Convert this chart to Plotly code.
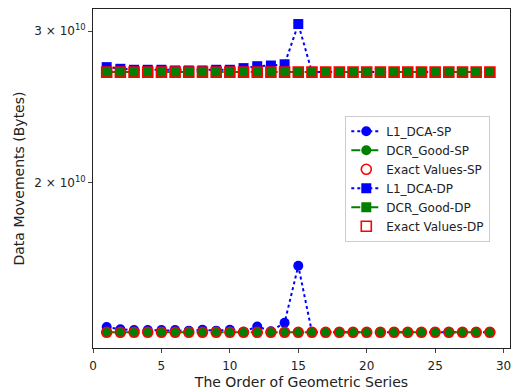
import plotly.graph_objects as go

x = list(range(1, 30))

exact_sp_val = 1.341e10
exact_dp_val = 2.689e10

l1_dca_sp = [1.360e10, 1.352e10, 1.349e10, 1.349e10, 1.349e10, 1.349e10, 1.347e10, 1.350e10,
             1.347e10, 1.350e10, 1.343e10, 1.362e10, 1.345e10, 1.376e10, 1.602e10] + [exact_sp_val] * 14
dcr_good_sp = [exact_sp_val] * 29
exact_sp = [exact_sp_val] * 29

l1_dca_dp = [2.725e10, 2.713e10, 2.706e10, 2.706e10, 2.706e10, 2.701e10, 2.701e10, 2.701e10,
             2.706e10, 2.706e10, 2.718e10, 2.732e10, 2.737e10, 2.746e10, 3.058e10] + [exact_dp_val] * 14
dcr_good_dp = [exact_dp_val] * 29
exact_dp = [exact_dp_val] * 29

y_tickvals = [2e10, 3e10]
y_ticktext = ["2 × 10<sup>10</sup>", "3 × 10<sup>10</sup>"]
x_tickvals = [0, 5, 10, 15, 20, 25, 30]

BLUE = "#0000ff"
GREEN = "#008000"
RED = "#ff0000"
MS = 10

fig = go.Figure()
fig.add_trace(go.Scatter(x=x, y=l1_dca_sp, name="L1_DCA-SP", mode="lines+markers",
                         line=dict(color=BLUE, width=2, dash="dot"),
                         marker=dict(symbol="circle", size=MS, color=BLUE)))
fig.add_trace(go.Scatter(x=x, y=dcr_good_sp, name="DCR_Good-SP", mode="lines+markers",
                         line=dict(color=GREEN, width=2, dash="dash"),
                         marker=dict(symbol="circle", size=MS, color=GREEN)))
fig.add_trace(go.Scatter(x=x, y=exact_sp, name="Exact Values-SP", mode="markers",
                         marker=dict(symbol="circle-open", size=MS, color=RED, line=dict(width=1.6, color=RED))))
fig.add_trace(go.Scatter(x=x, y=l1_dca_dp, name="L1_DCA-DP", mode="lines+markers",
                         line=dict(color=BLUE, width=2, dash="dot"),
                         marker=dict(symbol="square", size=MS, color=BLUE)))
fig.add_trace(go.Scatter(x=x, y=dcr_good_dp, name="DCR_Good-DP", mode="lines+markers",
                         line=dict(color=GREEN, width=2, dash="dash"),
                         marker=dict(symbol="square", size=MS, color=GREEN)))
fig.add_trace(go.Scatter(x=x, y=exact_dp, name="Exact Values-DP", mode="markers",
                         marker=dict(symbol="square-open", size=MS, color=RED, line=dict(width=1.6, color=RED))))

fig.update_layout(
    width=516, height=392,
    margin=dict(l=93, r=5, t=9, b=40),
    paper_bgcolor="white", plot_bgcolor="white",
    font=dict(family="DejaVu Sans", size=12, color="#222222"),
    showlegend=True,
    legend=dict(x=0.605, y=0.685, xanchor="left", yanchor="top",
                bgcolor="white", bordercolor="#cccccc", borderwidth=1,
                font=dict(size=12), tracegroupgap=0),
    xaxis=dict(range=[0, 30.47], tickvals=x_tickvals, ticks="outside", ticklen=4,
               ticklabelstandoff=3,
               showline=True, linecolor="#222222", linewidth=1, mirror=True,
               showgrid=False, zeroline=False,
               title=dict(text="The Order of Geometric Series", standoff=4)),
    yaxis=dict(type="log", range=[10.1092, 10.5029], tickvals=y_tickvals, ticktext=y_ticktext,
               ticks="outside", ticklen=4,
               showline=True, linecolor="#222222", linewidth=1, mirror=True,
               showgrid=False, zeroline=False,
               title=dict(text="Data Movements (Bytes)", standoff=6)),
)

fig.write_html("out.html")
